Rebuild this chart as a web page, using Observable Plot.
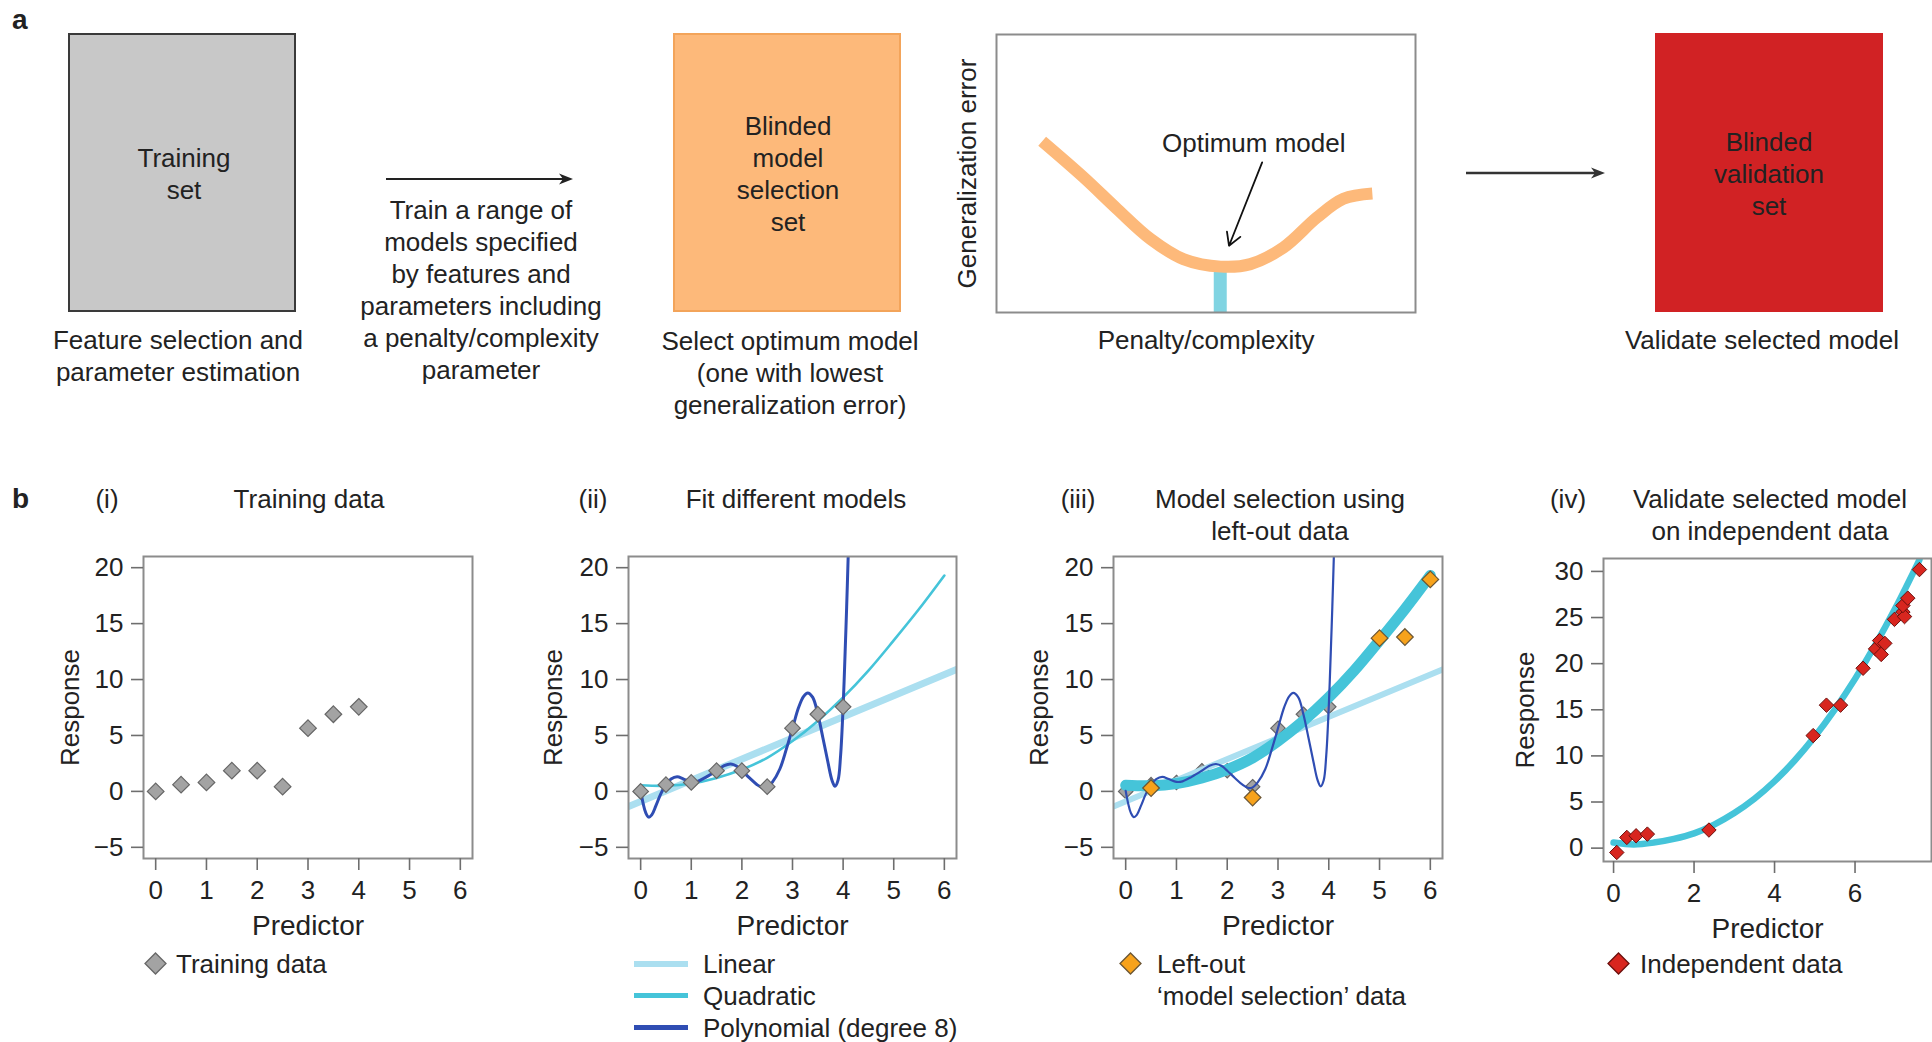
<!DOCTYPE html>
<html><head><meta charset="utf-8">
<script src="https://cdn.jsdelivr.net/npm/d3@7"></script>
<script src="https://cdn.jsdelivr.net/npm/@observablehq/plot@0.6"></script>
<style>
html,body{margin:0;padding:0;background:#fff;overflow:hidden;}
#root{position:relative;width:1932px;height:1042px;font-family:"Liberation Sans",Arial,Helvetica,sans-serif;color:#222;}
.t{position:absolute;font-size:26px;line-height:32px;white-space:nowrap;}
.c{text-align:center;transform:translateX(-50%);}
.bold{font-weight:bold;font-size:28px;}
.box{position:absolute;box-sizing:border-box;}
.abs{position:absolute;}
</style></head><body><div id="root"></div>
<script>
// ---------------- data ----------------
const trainX = [0, 0.5, 1, 1.5, 2, 2.5, 3, 3.5, 4];
const trainY = [0, 0.6, 0.8, 1.85, 1.85, 0.42, 5.65, 6.9, 7.56];

const leftOutX = [0.5, 2.5, 5, 5.5, 6];
const leftOutY = [0.3, -0.55, 13.7, 13.8, 18.95];

const linearX = [-0.24, 6.24];
const linearY = [-1.35, 10.9];

const quadX = [0, 0.5, 1, 1.5, 2, 2.5, 3, 3.5, 4, 4.5, 5, 5.5, 6];
const quadY = [0.55, 0.5, 0.7, 1.2, 1.95, 3.0, 4.5, 6.3, 8.4, 10.8, 13.5, 16.3, 19.3];

const polyX = [0, 0.05, 0.1, 0.16, 0.22, 0.3, 0.4, 0.5, 0.6, 0.72, 0.85, 1.0, 1.12, 1.3, 1.5, 1.65, 1.78, 1.9, 2.0, 2.15, 2.3, 2.42, 2.5, 2.6, 2.75, 2.88, 3.0, 3.12, 3.22, 3.3, 3.4, 3.5, 3.6, 3.7, 3.78, 3.84, 3.9, 3.95, 4.0, 4.04, 4.07, 4.1];
const polyY = [0.05, -1.1, -1.9, -2.3, -2.1, -1.3, -0.2, 0.6, 1.1, 1.3, 1.1, 0.85, 0.9, 1.3, 1.85, 2.3, 2.45, 2.25, 1.85, 1.2, 0.6, 0.3, 0.35, 0.8, 2.0, 3.8, 5.65, 7.5, 8.5, 8.8, 8.4, 6.9, 4.8, 2.6, 1.0, 0.45, 1.0, 3.2, 7.56, 12.5, 16.5, 21];

const indepX = [0.08, 0.33, 0.56, 0.84, 2.37, 4.96, 5.29, 5.64, 6.2, 6.51, 6.61, 6.65, 6.74, 6.98, 7.19, 7.23, 7.19, 7.31, 7.6];
const indepY = [-0.47, 1.16, 1.34, 1.52, 1.96, 12.2, 15.5, 15.5, 19.5, 21.6, 22.5, 21.0, 22.2, 24.8, 25.6, 25.1, 26.3, 27.1, 30.2];

const validX = [0, 0.5, 1, 1.5, 2, 2.5, 3, 3.5, 4, 4.5, 5, 5.5, 6, 6.5, 7, 7.5, 7.6];
const validY = [0.6, 0.4, 0.6, 1.0, 1.6, 2.55, 3.8, 5.35, 7.25, 9.5, 12.1, 15.05, 18.35, 22.0, 26.0, 30.35, 31.25];

const genX = [0.109, 0.208, 0.288, 0.368, 0.446, 0.535, 0.606, 0.685, 0.765, 0.828, 0.897];
const genY = [0.616, 0.486, 0.372, 0.264, 0.192, 0.165, 0.174, 0.234, 0.342, 0.409, 0.428];
const optimumX = [0.534];
const optimumY = [0.165];

const ticksX6 = [0, 1, 2, 3, 4, 5, 6];
const ticksY20 = [-5, 0, 5, 10, 15, 20];
const ticksX8 = [0, 2, 4, 6];
const ticksY30 = [0, 5, 10, 15, 20, 25, 30];

// ---------------- styles ----------------
const FONT = '"Liberation Sans", Arial, Helvetica, sans-serif';
const C = {
  grayFill: "#a3a3a3", grayStroke: "#666",
  orange: "#f7a21b", orangeStroke: "#6b5533",
  red: "#d8261f", redStroke: "#6b0f0c",
  linear: "#abdff0", quad: "#45c4d9", poly: "#2f4db3",
  genCurve: "#fdb97a", optBar: "#80d4e2"
};
const pts = (xs, ys) => xs.map((x, i) => ({x, y: ys[i]}));
const root = document.getElementById("root");

function addText(html, x, top, cls) {
  const d = document.createElement("div");
  d.className = "t " + (cls || "");
  d.style.left = x + "px";
  d.style.top = top + "px";
  d.innerHTML = html;
  root.appendChild(d);
  return d;
}
function addBox(l, t, w, h, fill, border) {
  const d = document.createElement("div");
  d.className = "box";
  Object.assign(d.style, {left: l + "px", top: t + "px", width: w + "px", height: h + "px", background: fill, border});
  root.appendChild(d);
}
function addArrow(x1, x2, y, color, sw) {
  const ns = "http://www.w3.org/2000/svg";
  const s = document.createElementNS(ns, "svg");
  s.setAttribute("class", "abs");
  s.setAttribute("width", x2 - x1 + 4);
  s.setAttribute("height", 20);
  s.style.left = x1 + "px"; s.style.top = (y - 10) + "px";
  const L = x2 - x1;
  s.innerHTML = `<line x1="0" y1="10" x2="${L - 10}" y2="10" stroke="${color}" stroke-width="${sw}"/>` +
    `<polygon points="${L},10 ${L - 14},4.5 ${L - 10},10 ${L - 14},15.5" fill="${color}"/>`;
  root.appendChild(s);
}
function addDiamond(cx, cy, h, fill, stroke) {
  const ns = "http://www.w3.org/2000/svg";
  const s = document.createElementNS(ns, "svg");
  s.setAttribute("class", "abs");
  s.setAttribute("width", 2 * h + 4); s.setAttribute("height", 2 * h + 4);
  s.style.left = (cx - h - 2) + "px"; s.style.top = (cy - h - 2) + "px";
  const c = h + 2;
  s.innerHTML = `<polygon points="${c},${c - h} ${c + h},${c} ${c},${c + h} ${c - h},${c}" fill="${fill}" stroke="${stroke}" stroke-width="1.3"/>`;
  root.appendChild(s);
}
function addSwatch(x1, x2, cy, color, h) {
  const d = document.createElement("div");
  Object.assign(d.style, {position: "absolute", left: x1 + "px", top: (cy - h / 2) + "px", width: (x2 - x1) + "px", height: h + "px", background: color});
  root.appendChild(d);
}
const label = (txt, opts) => Plot.text([txt], {text: d => d, textAnchor: "middle", lineAnchor: "middle", fill: "#222", ...opts});

// ---------------- panel a ----------------
addText("a", 12, 4, "bold");
addBox(68, 33, 228, 279, "#c8c8c8", "2px solid #3a3a3a");
addText("Training<br>set", 184, 142, "c");
addText("Feature selection and<br>parameter estimation", 178, 324, "c");
addArrow(386, 573, 178.6, "#222", 2);
addText("Train a range of<br>models specified<br>by features and<br>parameters including<br>a penalty/complexity<br>parameter", 481, 193.5, "c");
addBox(673, 33, 228, 279, "#fdb97a", "2px solid #f3a45a");
addText("Blinded<br>model<br>selection<br>set", 788, 110, "c");
addText("Select optimum model<br>(one with lowest<br>generalization error)", 790, 325, "c");
addArrow(1466, 1605, 172.5, "#333", 2.5);
addBox(1655, 33, 228, 279, "#d12224", "1px solid #d12224");
addText("Blinded<br>validation<br>set", 1769, 126, "c");
addText("Validate selected model", 1762, 324, "c");

// generalization error mini-chart
{
  const ML = 60, MR = 5, MT = 5, MB = 60, fw = 419, fh = 278;
  const svg = Plot.plot({
    width: ML + fw + MR, height: MT + fh + MB,
    marginLeft: ML, marginRight: MR, marginTop: MT, marginBottom: MB,
    x: {domain: [0, 1], axis: null}, y: {domain: [0, 1], axis: null},
    style: {background: "none", fontFamily: FONT, color: "#222", overflow: "visible"},
    marks: [
      Plot.ruleX(optimumX, {x: d => d, y1: 0, y2: optimumY[0], stroke: C.optBar, strokeWidth: 13}),
      Plot.line(pts(genX, genY), {x: "x", y: "y", stroke: C.genCurve, strokeWidth: 12, curve: "catmull-rom", strokeLinecap: "butt"}),
      Plot.frame({stroke: "#8c8c8c", strokeWidth: 2}),
      label("Optimum model", {x: 0.614, y: 0.606, fontSize: 26}),
      Plot.arrow([0], {x1: 0.634, y1: 0.54, x2: 0.555, y2: 0.24, stroke: "#111", strokeWidth: 1.8, headLength: 12}),
      label("Generalization error", {frameAnchor: "left", dx: -29, rotate: -90, fontSize: 26}),
      label("Penalty/complexity", {frameAnchor: "bottom", dy: 28, fontSize: 26})
    ]
  });
  svg.style.position = "absolute"; svg.style.left = (996 - ML) + "px"; svg.style.top = (34 - MT) + "px";
  root.appendChild(svg);
}

// ---------------- panel b ----------------
function panel({left, top, fw, fh, xDomain, yDomain, xTicks, yTicks, respDx, MR, marks}) {
  const ML = 110, MT = 10, MB = 90;
  MR = MR ?? 10;
  const svg = Plot.plot({
    width: ML + fw + MR, height: MT + fh + MB,
    marginLeft: ML, marginRight: MR, marginTop: MT, marginBottom: MB,
    x: {domain: xDomain}, y: {domain: yDomain},
    style: {background: "none", fontFamily: FONT, color: "#222", overflow: "visible"},
    marks: [
      ...marks,
      Plot.frame({stroke: "#8c8c8c", strokeWidth: 2}),
      Plot.axisX(xTicks, {tickSize: 12, tickPadding: 10, fontSize: 26, stroke: "#6e6e6e", strokeWidth: 1.6, fill: "#222", label: null}),
      Plot.axisY(yTicks, {tickSize: 12, tickPadding: 8, fontSize: 26, stroke: "#6e6e6e", strokeWidth: 1.6, fill: "#222", label: null}),
      label("Response", {frameAnchor: "left", dx: respDx, rotate: -90, fontSize: 26}),
      label("Predictor", {frameAnchor: "bottom", dy: 68, fontSize: 28})
    ]
  });
  svg.style.position = "absolute";
  svg.style.left = (left - ML) + "px";
  svg.style.top = (top - MT) + "px";
  root.appendChild(svg);
}

const trainDots = (r) => Plot.dot(pts(trainX, trainY), {x: "x", y: "y", symbol: "diamond2", r, fill: C.grayFill, stroke: C.grayStroke, strokeWidth: 1.2});
const linearLine = (w) => Plot.line(pts(linearX, linearY), {x: "x", y: "y", stroke: C.linear, strokeWidth: w, clip: true});
const quadLine = (w) => Plot.line(pts(quadX, quadY), {x: "x", y: "y", stroke: C.quad, strokeWidth: w, curve: "catmull-rom", clip: true});
const polyLine = (w) => Plot.line(pts(polyX, polyY), {x: "x", y: "y", stroke: C.poly, strokeWidth: w, curve: "catmull-rom", clip: true});

addText("b", 12, 483, "bold");

// (i)
addText("(i)", 107, 483, "c");
addText("Training data", 309, 483, "c");
panel({left: 143, top: 556, fw: 329, fh: 302, xDomain: [-0.24, 6.24], yDomain: [-6, 21], xTicks: ticksX6, yTicks: ticksY20, respDx: -73,
  marks: [trainDots(7.5)]});
addDiamond(155, 963.5, 10.5, C.grayFill, C.grayStroke);
addText("Training data", 176, 947.5);

// (ii)
addText("(ii)", 593, 483, "c");
addText("Fit different models", 796, 483, "c");
panel({left: 628, top: 556, fw: 328, fh: 302, xDomain: [-0.24, 6.24], yDomain: [-6, 21], xTicks: ticksX6, yTicks: ticksY20, respDx: -75,
  marks: [linearLine(7), quadLine(2.6), polyLine(3), trainDots(7)]});
addSwatch(634, 688, 963.5, C.linear, 6);
addSwatch(634, 688, 995.5, C.quad, 5);
addSwatch(634, 688, 1027.5, C.poly, 5);
addText("Linear", 703, 947.5);
addText("Quadratic", 703, 979.5);
addText("Polynomial (degree 8)", 703, 1011.5);

// (iii)
addText("(iii)", 1078, 483, "c");
addText("Model selection using<br>left-out data", 1280, 483, "c");
panel({left: 1113, top: 556, fw: 329, fh: 302, xDomain: [-0.24, 6.24], yDomain: [-6, 21], xTicks: ticksX6, yTicks: ticksY20, respDx: -74,
  marks: [trainDots(6.5), linearLine(6), quadLine(11), polyLine(2.2),
    Plot.dot(pts(leftOutX, leftOutY), {x: "x", y: "y", symbol: "diamond2", r: 7.5, fill: C.orange, stroke: C.orangeStroke, strokeWidth: 1.2})]});
addDiamond(1130, 963.5, 10.5, C.orange, C.orangeStroke);
addText("Left-out<br>\u2018model selection\u2019 data", 1157, 947.5);

// (iv)
addText("(iv)", 1568, 483, "c");
addText("Validate selected model<br>on independent data", 1770, 483, "c");
panel({left: 1603, top: 558, fw: 328, fh: 303, xDomain: [-0.25, 7.9], yDomain: [-1.45, 31.4], xTicks: ticksX8, yTicks: ticksY30, respDx: -78, MR: 1,
  marks: [Plot.line(pts(validX, validY), {x: "x", y: "y", stroke: C.quad, strokeWidth: 6.5, curve: "catmull-rom", clip: true}),
    Plot.dot(pts(indepX, indepY), {x: "x", y: "y", symbol: "diamond2", r: 6.5, fill: C.red, stroke: C.redStroke, strokeWidth: 1})]});
addDiamond(1618, 963.5, 10.5, C.red, C.redStroke);
addText("Independent data", 1640, 947.5);
</script></body></html>
